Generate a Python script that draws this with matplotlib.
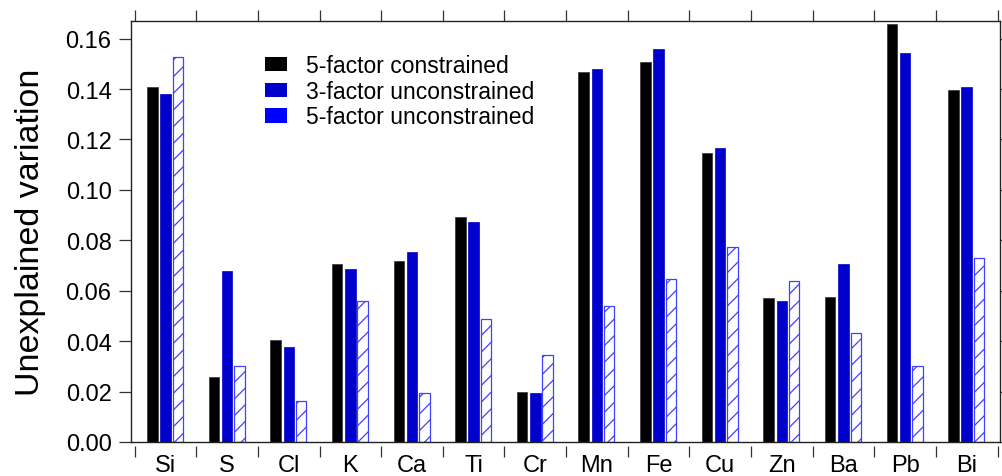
import numpy as np
import matplotlib
matplotlib.use('Agg')
import matplotlib.pyplot as plt
from matplotlib.patches import Patch
from matplotlib.ticker import FixedLocator, FormatStrFormatter, MultipleLocator

plt.rcParams['font.family'] = ['Liberation Sans', 'DejaVu Sans']
plt.rcParams['hatch.linewidth'] = 0.9

elements = ['Si', 'S', 'Cl', 'K', 'Ca', 'Ti', 'Cr', 'Mn', 'Fe', 'Cu', 'Zn', 'Ba', 'Pb', 'Bi']
con5 = [0.141, 0.0258, 0.0404, 0.0705, 0.0717, 0.0892, 0.0198, 0.1467, 0.1506, 0.1145, 0.0571, 0.0575, 0.1660, 0.1397]
uncon3 = [0.138, 0.0678, 0.0377, 0.0686, 0.0753, 0.0872, 0.0194, 0.1480, 0.1558, 0.1168, 0.0559, 0.0706, 0.1545, 0.1410]
uncon5 = [0.1526, 0.0300, 0.0163, 0.0559, 0.0194, 0.0488, 0.0345, 0.0539, 0.0646, 0.0773, 0.0638, 0.0432, 0.0301, 0.0729]
labels = ['5-factor constrained', '3-factor unconstrained', '5-factor unconstrained']

W, H = 1003, 477
fig = plt.figure(figsize=(W / 100, H / 100), dpi=100)
ax = fig.add_axes([131 / W, 1 - 443 / H, (1000 - 131) / W, (443 - 22) / H])

x = np.arange(len(elements))
bw = 0.17
ax.bar(x - 0.215, con5, bw, color='black', edgecolor='#333333', linewidth=0.5)
ax.bar(x, uncon3, bw, color='#0000cc', edgecolor='#0000cc', linewidth=0.5)
ax.bar(x + 0.2, uncon5, bw, color='white', edgecolor='#4040ff', hatch='//', linewidth=0.9)

ax.set_xlim(-0.56, 13.54)
ax.set_ylim(0, 0.167)

# frame
for s in ['left', 'right', 'top']:
    ax.spines[s].set_linewidth(1.0)
    ax.spines[s].set_color('#222222')
ax.spines['bottom'].set_position(('outward', 3))
ax.spines['bottom'].set_visible(False)
ax.plot([0, 1], [0, 0], transform=ax.transAxes, color='#222222', lw=1.0, clip_on=False)

# y axis
ax.yaxis.set_major_locator(MultipleLocator(0.02))
ax.yaxis.set_major_formatter(FormatStrFormatter('%.2f'))
ax.tick_params(axis='y', which='major', direction='out', length=9, width=0.9,
               labelsize=17, pad=5, color='#333333', right=True)
for t in ax.yaxis.get_major_ticks():
    t.tick2line.set_markersize(2.5)
ax.set_ylabel('Unexplained variation', fontsize=24.5, labelpad=14)

# x axis: labels at centres, separator ticks at boundaries
ax.xaxis.set_major_locator(FixedLocator(x))
ax.set_xticklabels(elements)
ax.xaxis.set_minor_locator(FixedLocator(np.arange(len(elements) + 1) - 0.5))
ax.tick_params(axis='x', which='major', length=0, labelsize=17, pad=6)
ax.tick_params(axis='x', which='minor', direction='out', length=8, width=0.9,
               color='#333333', top=True)

handles = [Patch(facecolor='black'), Patch(facecolor='#0000cc'), Patch(facecolor='#0000ff')]
fig.legend(handles, labels, loc='upper left', bbox_to_anchor=(265 / W, 1 - 55 / H),
           frameon=False, fontsize=16.5, handlelength=0.95, handleheight=0.58,
           handletextpad=0.85, labelspacing=0.12, borderpad=0, borderaxespad=0)

fig.savefig('out.png', dpi=100)
